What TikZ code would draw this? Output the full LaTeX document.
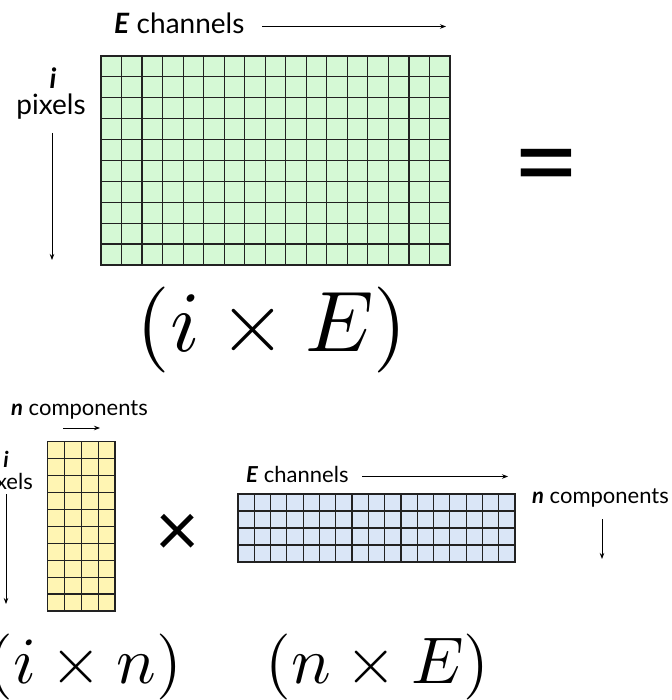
\documentclass[tikz,border=0pt]{standalone}
\usepackage{graphicx}
\usepackage{fontspec}
\setmainfont{Lato}
\usetikzlibrary{calc,arrows.meta}
\definecolor{greenfill}{HTML}{D5F9D5}
\definecolor{yellowfill}{HTML}{FFF5B3}
\definecolor{bluefill}{HTML}{DAE6F7}
\definecolor{gridcol}{HTML}{222222}
\tikzset{
  mat/.style={draw=gridcol, line width=1.2pt, inner sep=0pt, outer sep=0pt, anchor=north west},
  gridline/.style={draw=gridcol, line width=1.2pt},
  dirarrow/.style={line width=0.8pt, -{Stealth[length=6pt,width=4.5pt]}},
  biglabel/.style={font=\fontsize{28}{32}\selectfont, inner sep=0pt},
  smalllabel/.style={font=\fontsize{22}{26}\selectfont, inner sep=0pt},
  formula/.style={inner sep=0pt, font=\fontsize{10}{12}\selectfont},
}
\newcommand\gridlines[3]{% node, cols, rows
  \pgfmathtruncatemacro\gcolsm{#2-1}
  \pgfmathtruncatemacro\growsm{#3-1}
  \foreach \k in {1,...,\gcolsm}
    \draw[gridline] ($(#1.north west)!\k/#2!(#1.north east)$) -- ($(#1.south west)!\k/#2!(#1.south east)$);
  \foreach \k in {1,...,\growsm}
    \draw[gridline] ($(#1.north west)!\k/#3!(#1.south west)$) -- ($(#1.north east)!\k/#3!(#1.south east)$);
}
\begin{document}
\begin{tikzpicture}[x=1pt,y=-1pt]
\useasboundingbox (0,0) rectangle (671,700);

% ---- top matrix (i x E)
\node[mat, fill=greenfill, minimum width=349pt, minimum height=209pt] (G) at (101,56) {};
\gridlines{G}{17}{10}
\node[biglabel, anchor=base west] (Etop) at (114,34) {\textbf{\textit{E}} channels};
\coordinate (EtopA) at (262,26.5);
\coordinate (EtopB) at (446,26.5);
\draw[dirarrow] (EtopA) -- (EtopB);
\node[biglabel, anchor=base] (itop) at (53,89) {\textbf{\textit{i}}};
\node[biglabel, anchor=base] (pixtop) at (51,115) {pixels};
\coordinate (itopA) at (52,133);
\coordinate (itopB) at (52,260);
\draw[dirarrow] (itopA) -- (itopB);
\node[inner sep=0pt, font=\fontsize{117}{117}\selectfont] (eq) at (546,176) {=};
\node[formula, anchor=base] (mtop) at (272,351) {\scalebox{8.6}{$(i \times E)$}};

% ---- bottom left matrix (i x n)
\node[mat, fill=yellowfill, minimum width=67.5pt, minimum height=169.5pt] (Y) at (47.5,441.5) {};
\gridlines{Y}{4}{10}
\node[smalllabel, anchor=base west] (ncomp1) at (11,415) {\textbf{\textit{n}} components};
\coordinate (ncompA) at (63,428);
\coordinate (ncompB) at (100,428);
\draw[dirarrow] (ncompA) -- (ncompB);
\node[smalllabel, anchor=base] (ibot) at (6,467) {\textbf{\textit{i}}};
\node[smalllabel, anchor=base east] (pixbot) at (33,489) {pixels};
\coordinate (ibotA) at (6,494);
\coordinate (ibotB) at (6,604);
\draw[dirarrow] (ibotA) -- (ibotB);
\node[inner sep=0pt, font=\fontsize{76}{76}\selectfont] (times) at (178,535) {×};

% ---- bottom right matrix (n x E)
\node[mat, fill=bluefill, minimum width=277pt, minimum height=68pt] (B) at (238,494) {};
\gridlines{B}{17}{4}
\node[smalllabel, anchor=base west] (Ebot) at (246,482) {\textbf{\textit{E}} channels};
\coordinate (EbotA) at (362,476.5);
\coordinate (EbotB) at (508,476.5);
\draw[dirarrow] (EbotA) -- (EbotB);
\node[smalllabel, anchor=base west] (ncomp2) at (532,503) {\textbf{\textit{n}} components};
\coordinate (ncompC) at (602,519);
\coordinate (ncompD) at (602,559);
\draw[dirarrow] (ncompC) -- (ncompD);

% ---- bottom formulas
\node[formula, anchor=base east] (mleft) at (182,683) {\scalebox{6.6}{$(i \times n)$}};
\node[formula, anchor=base] (mright) at (377.5,683) {\scalebox{6.6}{$(n \times E)$}};
\end{tikzpicture}
\end{document}
